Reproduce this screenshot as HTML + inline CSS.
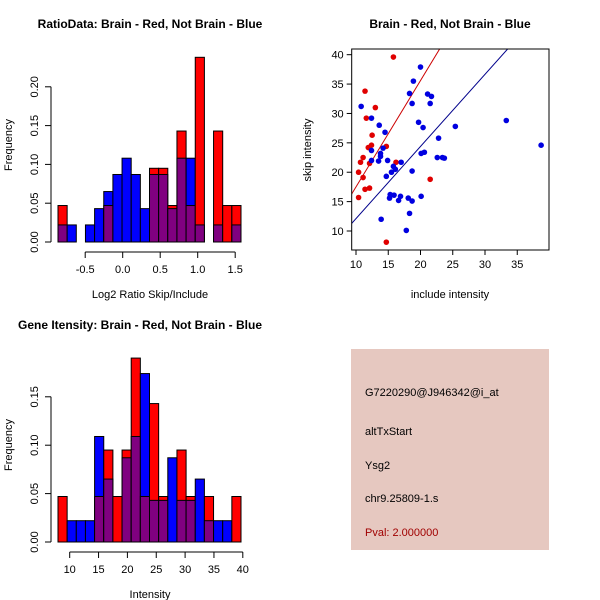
<!DOCTYPE html>
<html><head><meta charset="utf-8"><style>
body{margin:0;background:#fff}
svg{display:block;font-family:"Liberation Sans",sans-serif}
</style></head><body>
<svg id="c" width="600" height="600" viewBox="0 0 600 600" xmlns="http://www.w3.org/2000/svg">
<g id="g"></g>
</svg>
<script>
// ---- Histogram 1: Log2 ratio ----
const h1Red  = [0.047,0,0,0,0,0.047,0,0,0,0,0.095,0.095,0.047,0.143,0.047,0.238,0,0.143,0.047,0.047];
const h1Blue = [0.022,0.022,0,0.022,0.043,0.065,0.087,0.108,0.087,0.043,0.087,0.087,0.043,0.108,0.108,0.022,0,0.022,0,0.022];
const h1XTicks = [-0.5,0,0.5,1,1.5];
const h1XTickLabels = ["-0.5","0.0","0.5","1.0","1.5"];
const h1YTicks = [0,0.05,0.1,0.15,0.2];
const h1YTickLabels = ["0.00","0.05","0.10","0.15","0.20"];
// ---- Histogram 2: Intensity ----
const h2Red  = [0.047,0,0,0,0.047,0.095,0.047,0.095,0.19,0.047,0.143,0.047,0,0.095,0.047,0,0.047,0,0,0.047];
const h2Blue = [0,0.022,0.022,0.022,0.109,0.065,0,0.087,0.109,0.174,0.043,0.043,0.087,0.043,0.043,0.065,0.022,0.022,0.022,0];
const h2XTicks = [10,15,20,25,30,35,40];
const h2YTicks = [0,0.05,0.1,0.15];
const h2YTickLabels = ["0.00","0.05","0.10","0.15"];
// ---- Scatter ----
const redX = [15.8,11.4,13.0,11.6,12.5,11.9,12.4,14.7,11.1,10.7,12.1,10.4,11.1,11.4,12.1,10.4,16.2,21.5,14.7];
const redY = [39.6,33.8,31.0,29.2,26.3,24.2,24.6,24.4,22.5,21.7,21.5,20.0,19.1,17.1,17.3,15.7,21.7,18.8,8.1];
const blueX = [10.8,20.0,18.9,18.3,18.7,21.1,21.7,21.5,12.4,19.7,20.4,13.6,14.5,25.4,33.3,22.8,38.7,12.4,14.2,13.8,13.8,13.5,12.4,14.9,20.1,20.6,22.6,23.4,23.7,17.0,15.8,16.1,15.5,14.7,18.7,15.3,15.9,16.9,15.2,16.6,18.1,18.7,20.1,18.3,13.9,17.8];
const blueY = [31.2,37.9,35.5,33.4,31.7,33.3,32.9,31.7,29.2,28.5,27.6,28.0,26.8,27.8,28.8,25.8,24.6,23.7,24.1,23.2,22.7,21.9,22.0,22.0,23.2,23.4,22.5,22.5,22.4,21.7,21.0,20.5,20.0,19.3,20.2,16.2,16.1,15.9,15.6,15.2,15.6,15.1,15.9,13.0,12.0,10.1];
const lineIntercept = [-0.6,-0.15];
const lineSlope = [1.81,1.227];
const scXTicks = [10,15,20,25,30,35];
const scYTicks = [10,15,20,25,30,35,40];
const infoLines = ["G7220290@J946342@i_at","altTxStart","Ysg2","chr9.25809-1.s"];

const NS="http://www.w3.org/2000/svg";
const G=document.getElementById('g');
function mk(t,a,p){const e=document.createElementNS(NS,t);for(const k in a)e.setAttribute(k,a[k]);(p||G).appendChild(e);return e;}
function txt(s,x,y,o){o=o||{};const e=mk('text',{x:x,y:y,'font-size':o.fs||11,'text-anchor':o.anchor||'middle',fill:o.fill||'#000','font-weight':o.bold?'bold':'normal'});if(o.rot)e.setAttribute('transform','rotate(-90 '+x+' '+y+')');e.textContent=s;return e;}

function hist(red,blue,x0,x1,y0,yPer,xs,xTicks,xLabels,yTicks,yLabels,nm){
  const n=red.length,w=(x1-x0)/n;
  const ys=v=>y0-v*yPer;
  for(let i=0;i<n;i++){
    const r=red[i],b=blue[i],m=Math.min(r,b),M=Math.max(r,b);
    if(M<=0)continue;
    const top=(r>=b)?'#ff0000':'#0000ff';
    let e=mk('rect',{x:x0+i*w,y:ys(M),width:w,height:ys(0)-ys(M),fill:top,stroke:'#000','stroke-width':1});
    
    
    if(m>0){
      e=mk('rect',{x:x0+i*w,y:ys(m),width:w,height:ys(0)-ys(m),fill:'#800080',stroke:'#000','stroke-width':1});
      
      
    }
  }
  // y axis
  const ax=51;
  mk('line',{x1:ax,x2:ax,y1:ys(yTicks[0]),y2:ys(yTicks[yTicks.length-1]),stroke:'#000'});
  yTicks.forEach((v,i)=>{mk('line',{x1:ax-6,x2:ax,y1:ys(v),y2:ys(v),stroke:'#000'});
    const t=txt(yLabels[i],38,ys(v),{rot:1});});
  // x axis
  const xa=y0+10;
  mk('line',{x1:xs(xTicks[0]),x2:xs(xTicks[xTicks.length-1]),y1:xa,y2:xa,stroke:'#000'});
  xTicks.forEach((v,i)=>{mk('line',{x1:xs(v),x2:xs(v),y1:xa,y2:xa+6,stroke:'#000'});
    const t=txt(xLabels[i],xs(v),xa+21);});
}
hist(h1Red,h1Blue,58,241,242,38.8/0.05,v=>122.7+v*75,h1XTicks,h1XTickLabels,h1YTicks,h1YTickLabels,'ratio-hist');
hist(h2Red,h2Blue,58,241,542,48.4/0.05,v=>69.7+(v-10)*5.77,h2XTicks,h2XTicks.map(String),h2YTicks,h2YTickLabels,'intensity-hist');

let t;
t=txt('RatioData: Brain - Red, Not Brain - Blue',150,28,{bold:1,fs:12});
t=txt('Log2 Ratio Skip/Include',150,298);
t=txt('Frequency',12,145,{rot:1});
t=txt('Gene Itensity: Brain - Red, Not Brain - Blue',140,329,{bold:1,fs:12});
t=txt('Intensity',150,598);
t=txt('Frequency',12,445,{rot:1});

// scatter
const sx=v=>356+(v-10)*6.45, sy=v=>231-(v-10)*5.877;
const PL=351.7,PR=549,PT=49,PB=250;
mk('clipPath',{id:'clp'}); mk('rect',{x:PL,y:PT,width:PR-PL,height:PB-PT},document.getElementById('clp'));
const lineColors=['#cc0000','#00008b'];
lineIntercept.forEach((a,i)=>{const e=mk('line',{x1:sx(5),y1:sy(a+lineSlope[i]*5),x2:sx(45),y2:sy(a+lineSlope[i]*45),stroke:lineColors[i],'stroke-width':1,'clip-path':'url(#clp)'});
  });
redX.forEach((x,i)=>{const e=mk('circle',{cx:sx(x),cy:sy(redY[i]),r:2.8,fill:'#e00000'});});
blueX.forEach((x,i)=>{const e=mk('circle',{cx:sx(x),cy:sy(blueY[i]),r:2.8,fill:'#0000e0'});});
mk('rect',{x:PL,y:PT,width:PR-PL,height:PB-PT,fill:'none',stroke:'#000'});
scXTicks.forEach(v=>{mk('line',{x1:sx(v),x2:sx(v),y1:PB,y2:PB+5,stroke:'#000'});const e=txt(String(v),sx(v),PB+18);});
scYTicks.forEach(v=>{mk('line',{x1:PL-5,x2:PL,y1:sy(v),y2:sy(v),stroke:'#000'});const e=txt(String(v),PL-8,sy(v)+4,{anchor:'end'});});
t=txt('Brain - Red, Not Brain - Blue',450,28,{bold:1,fs:12});
t=txt('include intensity',450,298);
t=txt('skip intensity',311,150,{rot:1});

// info panel
const bx=mk('rect',{x:351,y:349,width:198,height:201,fill:'#e6c8c0'});

const ly=[396,435,469,502];
infoLines.forEach((s,i)=>{const e=txt(s,365,ly[i],{anchor:'start'});});
t=txt('Pval: 2.000000',365,536,{anchor:'start',fill:'#a00000'});
</script>
</body></html>
